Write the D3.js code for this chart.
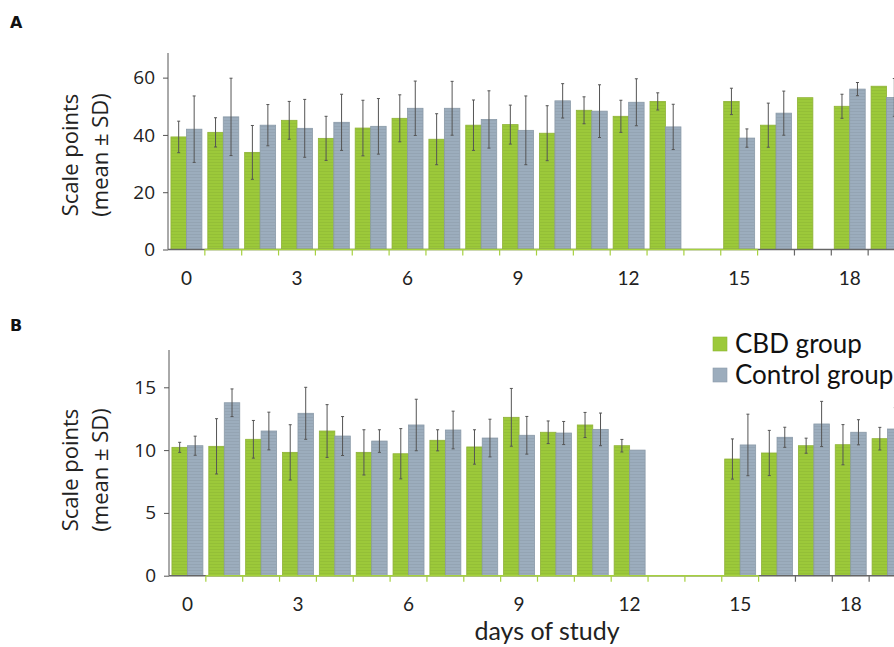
<!DOCTYPE html>
<html>
<head>
<meta charset="utf-8">
<script src="https://cdn.jsdelivr.net/npm/d3@7"></script>
<style>
  body { margin: 0; background: #fff; }
  svg { display: block; }
</style>
</head>
<body>
<div id="chart"></div>
<script>
const days = d3.range(0, 20)
const tickDays = [0, 3, 6, 9, 12, 15, 18]

// panel A (null = no bar)
const cbdA = [39.3, 40.9, 33.9, 45.1, 38.8, 42.4, 45.8, 38.5, 43.4, 43.6, 40.6, 48.6, 46.5, 51.7, null, 51.7, 43.4, 53.0, 50.0, 57.0]
const cbdSdA = [5.5, 5.1, 9.4, 6.6, 7.7, 9.7, 8.2, 8.9, 8.8, 6.8, 9.6, 4.7, 5.6, 3.0, 0, 4.6, 7.7, 0, 4.2, 0]
const ctrlA = [42.0, 46.3, 43.4, 42.3, 44.4, 43.0, 49.3, 49.3, 45.4, 41.6, 51.9, 48.3, 51.4, 42.8, null, 38.9, 47.6, null, 56.0, 53.1]
const ctrlSdA = [11.6, 13.5, 7.2, 10.1, 9.8, 9.7, 9.5, 9.4, 10.0, 12.0, 6.0, 9.2, 8.2, 7.9, 0, 3.2, 7.7, 0, 2.3, 6.6]

// panel B
const cbdB = [10.22, 10.3, 10.86, 9.82, 11.52, 9.82, 9.71, 10.78, 10.25, 12.61, 11.42, 12.0, 10.35, null, null, 9.29, 9.77, 10.35, 10.43, 10.91]
const cbdSdB = [0.4, 2.2, 1.5, 2.2, 2.1, 1.8, 2.0, 0.84, 1.37, 2.3, 0.9, 1.0, 0.5, 0, 0, 1.6, 1.8, 0.6, 1.6, 0.9]
const ctrlB = [10.35, 13.77, 11.52, 12.93, 11.12, 10.72, 12.0, 11.6, 10.96, 11.18, 11.36, 11.65, 10.0, null, null, 10.41, 11.02, 12.08, 11.42, 11.68]
const ctrlSdB = [0.76, 1.1, 1.5, 2.07, 1.55, 0.9, 2.05, 1.5, 1.5, 1.5, 0.92, 1.3, 0, 0, 0, 2.45, 0.8, 1.8, 1.0, 1.7]

const groups = ['CBD group', 'Control group']
const colors = ['#9cc93a', '#9cadbd']

const W = 894
const H = 647
const svg = d3.select('#chart').append('svg').attr('width', W).attr('height', H)
  .style('font-family', 'Lato, sans-serif')

// faint horizontal stripes inside the bars
const defs = svg.append('defs')
colors.forEach((c, i) => {
  const p = defs.append('pattern').attr('id', 'stripe' + i)
    .attr('patternUnits', 'userSpaceOnUse').attr('width', 4).attr('height', 3)
  p.append('rect').attr('width', 4).attr('height', 3).attr('fill', c)
  p.append('rect').attr('width', 4).attr('height', 1).attr('fill', d3.color(c).darker(0.15))
})

function panel(opts) {
  const g = svg.append('g')
  const bandW = 36.85
  const x = d3.scaleBand().domain(days).range([opts.x0, opts.x0 + bandW * days.length]).paddingInner(0).paddingOuter(0)
  const xi = d3.scaleBand().domain([0, 1]).range([0, x.bandwidth()]).paddingOuter(0.19).paddingInner(0)
  const y = d3.scaleLinear().domain([0, opts.ymax]).range([opts.y0, opts.yTop])

  const series = [
    days.map((d, i) => ({ day: d, v: opts.cbd[i], sd: opts.cbdSd[i], k: 0 })),
    days.map((d, i) => ({ day: d, v: opts.ctrl[i], sd: opts.ctrlSd[i], k: 1 }))
  ]
  const all = series.flat().filter((d) => d.v != null)

  g.selectAll('rect.bar').data(all).enter().append('rect')
    .attr('class', 'bar')
    .attr('x', (d) => x(d.day) + xi(d.k))
    .attr('width', xi.bandwidth())
    .attr('y', (d) => y(d.v))
    .attr('height', (d) => y(0) - y(d.v))
    .attr('fill', (d) => 'url(#stripe' + d.k + ')')
    .attr('stroke', (d) => d.k === 0 ? '#8fb236' : '#8a9aa8')
    .attr('stroke-width', 0.8)

  // error bars
  const eb = all.filter((d) => d.sd > 0)
  const cx = (d) => x(d.day) + xi(d.k) + xi.bandwidth() / 2
  g.selectAll('line.err').data(eb).enter().append('line')
    .attr('x1', cx).attr('x2', cx)
    .attr('y1', (d) => y(d.v + d.sd)).attr('y2', (d) => y(d.v - d.sd))
    .attr('stroke', '#555').attr('stroke-width', 1)
  ;['top', 'bot'].forEach((s) => {
    g.selectAll('line.cap' + s).data(eb).enter().append('line')
      .attr('x1', (d) => cx(d) - 1.5).attr('x2', (d) => cx(d) + 1.5)
      .attr('y1', (d) => y(s === 'top' ? d.v + d.sd : d.v - d.sd))
      .attr('y2', (d) => y(s === 'top' ? d.v + d.sd : d.v - d.sd))
      .attr('stroke', '#555').attr('stroke-width', 1)
  })

  // y axis
  const ya = g.append('g').attr('transform', `translate(${opts.x0},0)`)
    .call(d3.axisLeft(y).tickValues(opts.yTicks).tickSize(5).tickPadding(8))
  ya.select('.domain').attr('stroke', '#555').attr('d', `M0,${opts.yTop}V${opts.y0}`)
  ya.selectAll('.tick line').attr('stroke', '#555')
  ya.selectAll('.tick text').attr('font-family', '"Open Sans", sans-serif')
    .attr('font-size', 19).attr('fill', '#222')

  // x axis: grey line, green stretch from day 1 through day 15
  const xEnd = W + 20
  g.append('line').attr('x1', opts.x0).attr('x2', xEnd).attr('y1', y(0)).attr('y2', y(0))
    .attr('stroke', '#666').attr('stroke-width', 1.5)
  g.append('line').attr('x1', x(1)).attr('x2', x(16)).attr('y1', y(0)).attr('y2', y(0))
    .attr('stroke', '#a6d13f').attr('stroke-width', 1.5)
  g.selectAll('line.xt').data(days.slice(1)).enter().append('line')
    .attr('x1', (d) => x(d)).attr('x2', (d) => x(d))
    .attr('y1', y(0)).attr('y2', y(0) + 6)
    .attr('stroke', (d) => d <= 16 ? '#a6d13f' : '#666').attr('stroke-width', 1.2)
  g.selectAll('text.xl').data(tickDays).enter().append('text')
    .attr('x', (d) => x(d) + x.bandwidth() / 2)
    .attr('y', y(0) + 35)
    .attr('text-anchor', 'middle').attr('font-size', 19).attr('fill', '#222')
    .text((d) => d)

  // y label, two lines
  const lab = g.append('text')
    .attr('transform', `translate(0,${opts.labelY}) rotate(-90)`)
    .attr('text-anchor', 'middle').attr('font-family', '"Open Sans", sans-serif')
    .attr('font-size', 22).attr('fill', '#222')
  lab.append('tspan').attr('x', 0).attr('y', 78).text('Scale points')
  lab.append('tspan').attr('x', 0).attr('y', 108).text('(mean \u00b1 SD)')

  svg.append('text').attr('x', 10).attr('y', opts.letterY)
    .attr('font-family', '"DejaVu Sans", sans-serif')
    .attr('font-weight', 'bold').attr('font-size', 16).attr('fill', '#111')
    .text(opts.letter)
}

panel({
  letter: 'A', letterY: 28, x0: 168, y0: 249.5, yTop: 53, ymax: 68.6,
  yTicks: [0, 20, 40, 60], labelY: 155,
  cbd: cbdA, cbdSd: cbdSdA, ctrl: ctrlA, ctrlSd: ctrlSdA
})
panel({
  letter: 'B', letterY: 331, x0: 169, y0: 575.7, yTop: 350, ymax: 17.97,
  yTicks: [0, 5, 10, 15], labelY: 470,
  cbd: cbdB, cbdSd: cbdSdB, ctrl: ctrlB, ctrlSd: ctrlSdB
})

// legend
const leg = svg.append('g').attr('transform', 'translate(713,337)')
groups.forEach((name, i) => {
  leg.append('rect').attr('x', 0).attr('y', i * 31).attr('width', 14).attr('height', 14)
    .attr('fill', colors[i]).attr('stroke', d3.color(colors[i]).darker(0.3)).attr('stroke-width', 0.6)
  leg.append('text').attr('x', 22).attr('y', i * 31 + 16)
    .attr('font-size', 26).attr('fill', '#111').text(name)
})

svg.append('text').attr('x', 547).attr('y', 640).attr('text-anchor', 'middle')
  .attr('font-size', 25).attr('fill', '#222').text('days of study')
</script>
</body>
</html>
